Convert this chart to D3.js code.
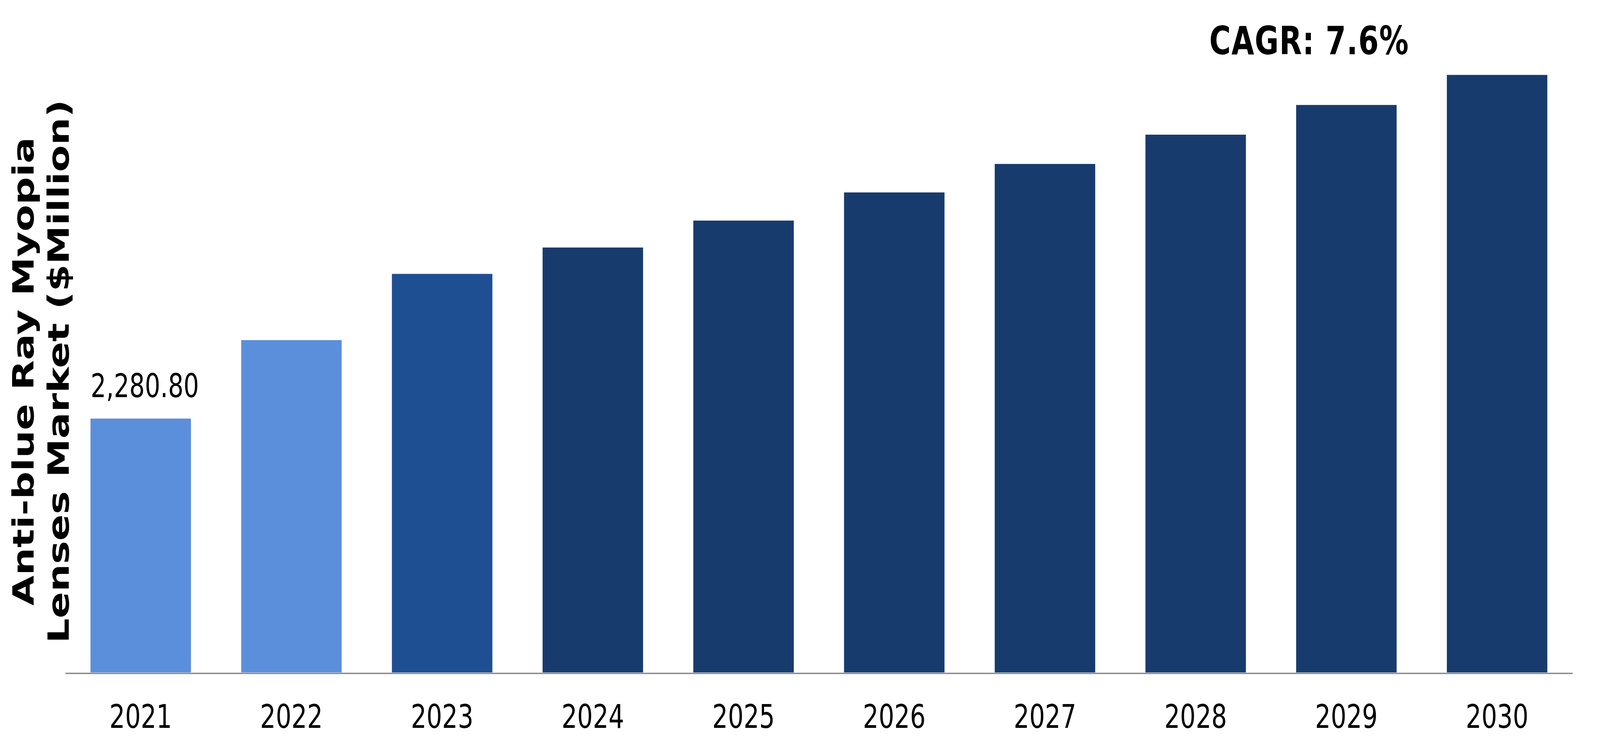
<!DOCTYPE html>
<html>
<head>
<meta charset="utf-8">
<script src="https://cdn.jsdelivr.net/npm/d3@7"></script>
<style>
  html, body { margin: 0; padding: 0; background: #fff; overflow: hidden; }
  #chart { width: 100vw; height: 100vh; }
  svg { display: block; width: 100%; height: 100%; }
</style>
</head>
<body>
<div id="chart"></div>
<script>
// --- data ---
const years = ["2021", "2022", "2023", "2024", "2025", "2026", "2027", "2028", "2029", "2030"];
const marketValues = [2280.8, 2986, 3581, 3818, 4060, 4313, 4569, 4832, 5099, 5369];
const labelledYears = ["2021"];
const cagrText = "CAGR: 7.6%";
const titleLines = ["Anti-blue Ray Myopia", "Lenses Market ($Million)"];

// laid out in the reference's 5459x1913 pixel space, stretched to fill the window
const width = 5459;
const height = 1913;

const svg = d3.select("#chart").append("svg")
    .attr("viewBox", `0 0 ${width} ${height}`)
    .attr("preserveAspectRatio", "none");

svg.append("rect").attr("width", width).attr("height", height).attr("fill", "#fff");

const x = d3.scaleBand()
    .domain(years)
    .range([223, 5365])
    .paddingInner(1 / 3)
    .paddingOuter(1 / 6);

const y = d3.scaleLinear()
    .domain([0, 6000])
    .range([1722, 12]);

// light for history, mid for base year, navy for forecast
const color = d3.scaleOrdinal()
    .domain(years)
    .range(["#5B8FDB", "#5B8FDB", "#1F4F93", "#183B6E", "#183B6E", "#183B6E", "#183B6E", "#183B6E", "#183B6E", "#183B6E"]);

const data = years.map((yr, i) => ({ year: yr, value: marketValues[i] }));

svg.append("g")
    .selectAll("rect")
    .data(data)
    .join("rect")
    .attr("x", d => x(d.year))
    .attr("y", d => y(d.value))
    .attr("width", x.bandwidth())
    .attr("height", d => y(0) - y(d.value))
    .attr("fill", d => color(d.year));

// x axis: gray baseline with year labels
const xAxis = svg.append("g")
    .attr("transform", "translate(0,1724)")
    .call(d3.axisBottom(x).tickSize(0).tickSizeOuter(0).tickPadding(80));

xAxis.select(".domain")
    .attr("stroke", "#898989")
    .attr("stroke-width", 3.5);

xAxis.selectAll(".tick text")
    .attr("font-family", "'DejaVu Sans', Verdana, sans-serif")
    .attr("font-size", 84)
    .attr("fill", "#000");

// value label on the first bar
svg.append("g")
    .selectAll("text")
    .data(data.filter(d => labelledYears.includes(d.year)))
    .join("text")
    .attr("x", d => x(d.year) + x.bandwidth() / 2 + 14)
    .attr("y", d => y(d.value) - 55)
    .attr("text-anchor", "middle")
    .attr("font-family", "'DejaVu Sans', Verdana, sans-serif")
    .attr("font-size", 83)
    .attr("fill", "#000")
    .text(d => d3.format(",.2f")(d.value));

// CAGR note
svg.append("text")
    .attr("x", 4467)
    .attr("y", 139)
    .attr("text-anchor", "middle")
    .attr("font-family", "'DejaVu Sans', Verdana, sans-serif")
    .attr("font-weight", "bold")
    .attr("font-size", 100)
    .attr("letter-spacing", 2)
    .attr("fill", "#000")
    .text(cagrText);

// rotated y axis title, two lines
const titleX = [115, 234];
svg.append("g")
    .selectAll("text")
    .data(titleLines)
    .join("text")
    .attr("transform", (d, i) => `translate(${titleX[i]},951) rotate(-90)`)
    .attr("text-anchor", "middle")
    .attr("font-family", "'DejaVu Sans', Verdana, sans-serif")
    .attr("font-weight", "bold")
    .attr("font-size", 100)
    .attr("fill", "#000")
    .text(d => d);
</script>
</body>
</html>
